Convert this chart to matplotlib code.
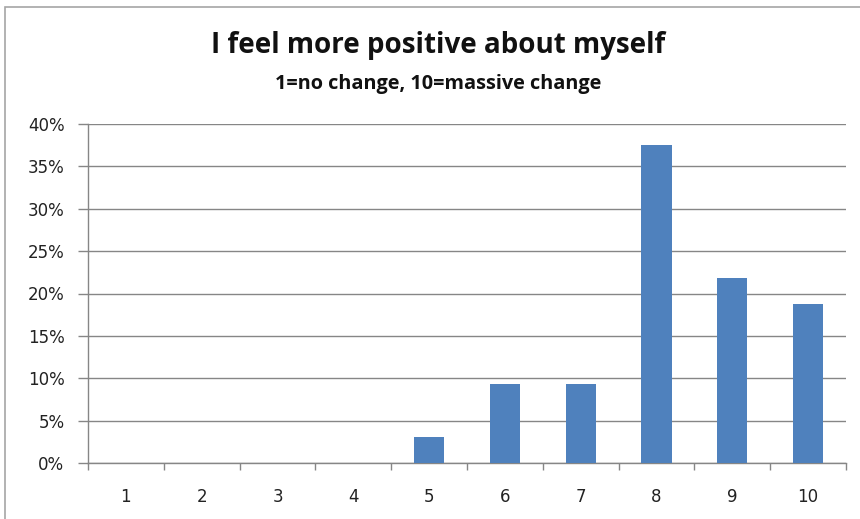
import matplotlib.pyplot as plt
import numpy as np
from matplotlib.patches import Rectangle
from matplotlib.ticker import FuncFormatter

# Survey answers, 1=no change ... 10=massive change
categories = ['1', '2', '3', '4', '5', '6', '7', '8', '9', '10']
shares = [0, 0, 0, 0, 3.125, 9.375, 9.375, 37.5, 21.875, 18.75]
y_ticks = [0, 5, 10, 15, 20, 25, 30, 35, 40]

title = 'I feel more positive about myself'
subtitle = '1=no change, 10=massive change'

bar_color = '#4F81BD'
grid_color = '#868686'

fig = plt.figure(figsize=(8.6, 5.19), dpi=100)

# chart frame (cut off at right and bottom in the reference)
fig.patches.append(Rectangle((5 / 860, -0.1), 1.2, 1 - 7 / 519 + 0.1,
                             transform=fig.transFigure, fill=False,
                             edgecolor='#A6A6A6', linewidth=1.2))

ax = fig.add_axes([88 / 860, 1 - 463 / 519, (846 - 88) / 860, (463 - 124) / 519])

x = np.arange(len(categories))
ax.bar(x, shares, width=0.4, color=bar_color, zorder=3)

ax.set_xlim(-0.5, len(categories) - 0.5)
ax.set_ylim(0, 40)
ax.set_yticks(y_ticks)
ax.yaxis.set_major_formatter(FuncFormatter(lambda v, p: f'{v:.0f}%'))
ax.set_xticks(x)
ax.set_xticklabels(categories)
ax.set_xticks(np.arange(-0.5, len(categories)), minor=True)

ax.grid(axis='y', color=grid_color, linewidth=1, zorder=0)
for side in ['top', 'right']:
    ax.spines[side].set_visible(False)
for side in ['left', 'bottom']:
    ax.spines[side].set_color(grid_color)
    ax.spines[side].set_linewidth(1)

ax.tick_params(axis='y', length=7, width=1, color=grid_color, pad=10,
               labelsize=12, labelcolor='#222222')
ax.tick_params(axis='x', which='major', length=0, pad=18,
               labelsize=12, labelcolor='#222222')
ax.tick_params(axis='x', which='minor', length=5, width=1, color=grid_color)
for lbl in ax.get_xticklabels() + ax.get_yticklabels():
    lbl.set_family('DejaVu Sans')

fig.text(438 / 860, 1 - 53 / 519, title, ha='center', va='baseline',
         fontsize=20, fontweight='bold', family='Open Sans', color='#111111')
fig.text(438.5 / 860, 1 - 89 / 519, subtitle, ha='center', va='baseline',
         fontsize=14.3, fontweight='bold', family='Open Sans', color='#111111')

fig.savefig('out.png', dpi=100)
